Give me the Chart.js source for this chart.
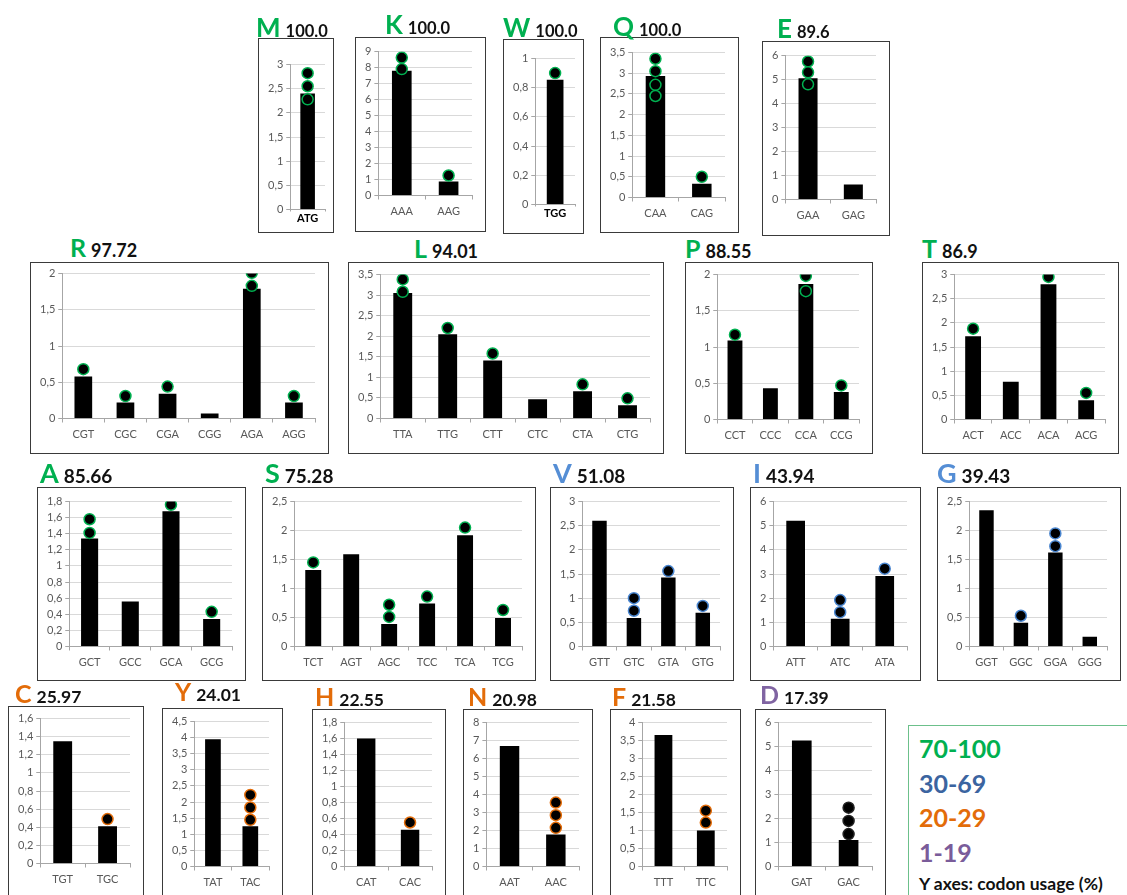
<!DOCTYPE html>
<html><head><meta charset="utf-8">
<script src="https://cdn.jsdelivr.net/npm/chart.js@4.4.1/dist/chart.umd.min.js"></script>
<style>
html,body{margin:0;padding:0;background:#fff;width:1127px;height:895px;overflow:hidden;position:relative;font-family:Lato,'Open Sans',sans-serif;}
.box{position:absolute;border:1.5px solid #3a3a3a;box-sizing:border-box;background:#fff;}
.box canvas{position:absolute;left:0;top:0;}
.title{position:absolute;white-space:nowrap;font-weight:700;line-height:1;}
.title .n{color:#111;}
.legend{position:absolute;left:908px;top:725px;width:230px;height:190px;border:1.5px solid #6cc08b;box-sizing:border-box;font-weight:700;}
.legend div{position:absolute;left:10px;white-space:nowrap;line-height:1;}
</style></head><body>
<script>
// ---------- DATA ----------
const M_codons=['ATG'];                      const M_usage=[2.4];                         const M_dots=[[2.82,2.55,2.28]];
const K_codons=['AAA','AAG'];                const K_usage=[7.8,0.88];                    const K_dots=[[8.62,7.9],[1.25]];
const W_codons=['TGG'];                      const W_usage=[0.855];                       const W_dots=[[0.9]];
const Q_codons=['CAA','CAG'];                const Q_usage=[2.93,0.33];                   const Q_dots=[[3.35,3.05,2.72,2.45],[0.5]];
const E_codons=['GAA','GAG'];                const E_usage=[5.05,0.62];                   const E_dots=[[5.75,5.3,4.8],[]];
const R_codons=['CGT','CGC','CGA','CGG','AGA','AGG']; const R_usage=[0.58,0.22,0.34,0.07,1.79,0.22]; const R_dots=[[0.68],[0.31],[0.44],[],[2.01,1.83],[0.31]];
const L_codons=['TTA','TTG','CTT','CTC','CTA','CTG']; const L_usage=[3.05,2.05,1.41,0.47,0.66,0.32]; const L_dots=[[3.38,3.08],[2.2],[1.58],[],[0.83],[0.49]];
const P_codons=['CCT','CCC','CCA','CCG'];    const P_usage=[1.09,0.43,1.87,0.38];         const P_dots=[[1.17],[],[1.98,1.77],[0.47]];
const T_codons=['ACT','ACC','ACA','ACG'];    const T_usage=[1.72,0.78,2.8,0.4];           const T_dots=[[1.88],[],[2.95],[0.55]];
const A_codons=['GCT','GCC','GCA','GCG'];    const A_usage=[1.34,0.56,1.68,0.34];         const A_dots=[[1.58,1.41],[],[1.76],[0.43]];
const S_codons=['TCT','AGT','AGC','TCC','TCA','TCG']; const S_usage=[1.32,1.59,0.39,0.74,1.92,0.49]; const S_dots=[[1.45],[],[0.72,0.51],[0.86],[2.05],[0.63]];
const V_codons=['GTT','GTC','GTA','GTG'];    const V_usage=[2.6,0.59,1.43,0.7];           const V_dots=[[],[1.0,0.74],[1.56],[0.84]];
const I_codons=['ATT','ATC','ATA'];          const I_usage=[5.2,1.15,2.92];               const I_dots=[[],[1.92,1.42],[3.22]];
const G_codons=['GGT','GGC','GGA','GGG'];    const G_usage=[2.35,0.41,1.62,0.17];         const G_dots=[[],[0.53],[1.95,1.73],[]];
const C_codons=['TGT','TGC'];                const C_usage=[1.35,0.41];                   const C_dots=[[],[0.49]];
const Y_codons=['TAT','TAC'];                const Y_usage=[3.95,1.25];                   const Y_dots=[[],[2.22,1.83,1.45]];
const H_codons=['CAT','CAC'];                const H_usage=[1.6,0.46];                    const H_dots=[[],[0.55]];
const N_codons=['AAT','AAC'];                const N_usage=[6.7,1.78];                    const N_dots=[[],[3.55,2.85,2.15]];
const F_codons=['TTT','TTC'];                const F_usage=[3.65,1.0];                    const F_dots=[[],[1.55,1.22]];
const D_codons=['GAT','GAC'];                const D_usage=[5.25,1.1];                    const D_dots=[[],[2.45,1.9,1.35]];

// amino acid, score, group index, y-axis max, y-axis step
const aminoAcids=['M','K','W','Q','E','R','L','P','T','A','S','V','I','G','C','Y','H','N','F','D'];
const scores=['100.0','100.0','100.0','100.0','89.6','97.72','94.01','88.55','86.9','85.66','75.28','51.08','43.94','39.43','25.97','24.01','22.55','20.98','21.58','17.39'];
const groups=[0,0,0,0,0,0,0,0,0,0,0,1,1,1,2,2,2,2,2,3];
const yMax=[3,9,1,3.5,6,2,3.5,2,3,1.8,2.5,3,6,2.5,1.6,4.5,1.8,8,4,6];
const yStep=[0.5,1,0.2,0.5,1,0.5,0.5,0.5,0.5,0.2,0.5,0.5,1,0.5,0.2,0.5,0.2,1,0.5,1];
const groupLabels=['70-100','30-69','20-29','1-19'];
const axisNote='Y axes: codon usage (%)';

const seriesByAA={M:[M_codons,M_usage,M_dots],K:[K_codons,K_usage,K_dots],W:[W_codons,W_usage,W_dots],Q:[Q_codons,Q_usage,Q_dots],E:[E_codons,E_usage,E_dots],
R:[R_codons,R_usage,R_dots],L:[L_codons,L_usage,L_dots],P:[P_codons,P_usage,P_dots],T:[T_codons,T_usage,T_dots],
A:[A_codons,A_usage,A_dots],S:[S_codons,S_usage,S_dots],V:[V_codons,V_usage,V_dots],I:[I_codons,I_usage,I_dots],G:[G_codons,G_usage,G_dots],
C:[C_codons,C_usage,C_dots],Y:[Y_codons,Y_usage,Y_dots],H:[H_codons,H_usage,H_dots],N:[N_codons,N_usage,N_dots],F:[F_codons,F_usage,F_dots],D:[D_codons,D_usage,D_dots]};

// ---------- LAYOUT & STYLE ----------
// x,y,w,h: box; tx,ty: title left / baseline; gt,gz: target pixel of top gridline / zero line
// ls,ns: title letter / number font size
const layout={
 M:{x:258,y:38,w:76,h:195,tx:256,ty:37,gt:65,gz:210,ls:26,ns:16.5,pr:3,bold:1},
 K:{x:355,y:37,w:131,h:195,tx:385,ty:34,gt:52,gz:201,ls:26,ns:16.5},
 W:{x:503,y:39,w:81,h:195,tx:503,ty:37,gt:59,gz:205,ls:26,ns:16.5,pr:3,bold:1},
 Q:{x:600,y:37,w:139,h:196,tx:613,ty:36,gt:53,gz:203,ls:26,ns:16.5},
 E:{x:762,y:41,w:128,h:195,tx:777,ty:38,gt:56,gz:205,ls:26,ns:16.5},
 R:{x:30,y:262,w:299,h:192,tx:70,ty:257,gt:274,gz:424,ls:25,ns:18},
 L:{x:348,y:262,w:316,h:192,tx:414,ty:258,gt:275,gz:424,ls:25,ns:18},
 P:{x:685,y:262,w:188,h:192,tx:685,ty:258,gt:275,gz:425,ls:25,ns:18},
 T:{x:922,y:262,w:197,h:192,tx:922,ty:258,gt:275,gz:425,ls:25,ns:18},
 A:{x:37,y:487,w:209,h:194,tx:40,ty:483,gt:502,gz:652,ls:27,ns:19},
 S:{x:262,y:487,w:274,h:194,tx:265,ty:483,gt:502,gz:652,ls:27,ns:19},
 V:{x:550,y:487,w:184,h:194,tx:553,ty:483,gt:502,gz:652,ls:27,ns:19},
 I:{x:750,y:487,w:171,h:194,tx:753,ty:483,gt:502,gz:652,ls:27,ns:19},
 G:{x:937,y:487,w:184,h:194,tx:937,ty:483,gt:502,gz:652,ls:27,ns:19},
 C:{x:8,y:706,w:136,h:200,tx:15,ty:703,gt:719,gz:869,ls:25,ns:17.5},
 Y:{x:162,y:708,w:121,h:200,tx:175,ty:701,gt:722,gz:872,ls:25,ns:17.5},
 H:{x:312,y:709,w:134,h:200,tx:315,ty:706,gt:723,gz:872,ls:25,ns:17.5},
 N:{x:463,y:709,w:130,h:200,tx:468,ty:706,gt:723,gz:872,ls:25,ns:17.5},
 F:{x:610,y:709,w:131,h:200,tx:612,ty:706,gt:723,gz:872,ls:25,ns:17.5},
 D:{x:755,y:709,w:131,h:200,tx:760,ty:704,gt:723,gz:872,ls:25,ns:17.5}
};
const letterColors=['#00b050','#558ed5','#e36c09','#8064a2'];
const dotBorders=['#00b050','#4a86d0','#e36c09','#222222'];
const legendColors=['#00b050','#3b64a0','#e36c09','#7a5c9a'];

function fmt(v){return String(parseFloat(v.toFixed(3))).replace('.',',');}

aminoAcids.forEach((aa,k)=>{
  const Ly=layout[aa];
  const [codons,usage,dots]=seriesByAA[aa];
  const box=document.createElement('div');
  box.className='box';
  Object.assign(box.style,{left:Ly.x+'px',top:Ly.y+'px',width:Ly.w+'px',height:Ly.h+'px'});
  const W=Ly.w-3, H=Ly.h-3;
  const cv=document.createElement('canvas');
  cv.width=W; cv.height=H;
  cv.style.width=W+'px'; cv.style.height=H+'px';
  box.appendChild(cv);
  document.body.appendChild(box);

  const t=document.createElement('div');
  t.className='title';
  t.innerHTML='<span style="font-size:'+Ly.ls+'px;color:'+letterColors[groups[k]]+'">'+aa+'</span><span class="n" style="font-size:'+Ly.ns+'px;margin-left:5px">'+scores[k]+'</span>';
  t.style.left=Ly.tx+'px';
  t.style.top=(Ly.ty - Ly.ls*0.88)+'px';
  document.body.appendChild(t);

  const tl=Ly.bold?2:4, tp=Ly.bold?0:5;
  const cTop=Ly.y+1.5;
  const pt=Ly.gt-cTop;
  const pb=H-(Ly.gz-cTop)-(tl+tp+13.2);

  const pts=[];
  dots.forEach((arr,i)=>arr.forEach(v=>pts.push({x:codons[i],y:v})));

  new Chart(cv,{
    type:'bar',
    data:{labels:codons,datasets:[
      {type:'line',data:pts,showLine:false,pointRadius:5.5,pointHoverRadius:5.5,pointBackgroundColor:'#000',
       pointBorderColor:dotBorders[groups[k]],pointBorderWidth:1.5,order:0},
      {data:usage,backgroundColor:'#000',barPercentage:0.42,categoryPercentage:1,order:1}
    ]},
    options:{
      responsive:false,animation:false,devicePixelRatio:1,
      layout:{padding:{top:pt,left:6,right:(Ly.pr||12),bottom:pb}},
      plugins:{legend:{display:false},tooltip:{enabled:false}},
      scales:{
        y:{min:0,max:yMax[k],
           ticks:{stepSize:yStep[k],autoSkip:false,callback:v=>fmt(v),color:'#595959',font:{family:'Lato',size:11},padding:3},
           grid:{color:'#d9d9d9',tickLength:4,tickColor:'#a6a6a6'},
           border:{color:'#a6a6a6'}},
        x:{offset:true,
           ticks:{autoSkip:false,maxRotation:0,color:Ly.bold?'#000':'#595959',font:{family:'Lato',size:11,weight:Ly.bold?'bold':'normal'},padding:tp},
           grid:{drawOnChartArea:false,offset:true,tickLength:tl,color:'#a6a6a6'},
           border:{color:'#a6a6a6'}}
      }
    }
  });
});

// legend
const lg=document.createElement('div');
lg.className='legend';
let html='';
const tops=[10,45,79,114];
groupLabels.forEach((g,i)=>{html+='<div style="top:'+tops[i]+'px;font-size:25px;color:'+legendColors[i]+'">'+g+'</div>';});
html+='<div style="top:149px;font-size:17.5px;color:#111">'+axisNote+'</div>';
lg.innerHTML=html;
document.body.appendChild(lg);
</script>
</body></html>
